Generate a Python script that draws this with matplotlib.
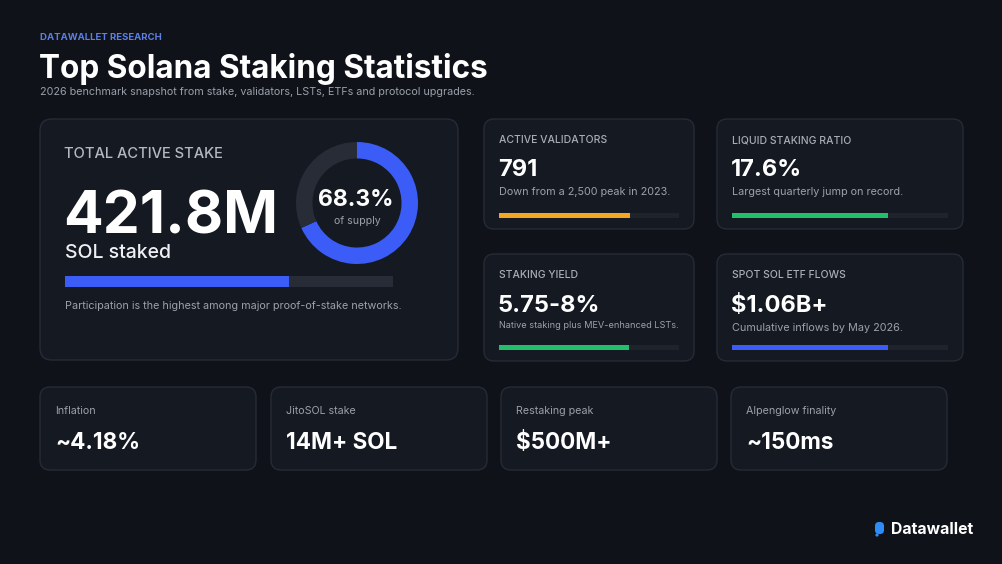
import matplotlib
matplotlib.use("Agg")
import matplotlib.pyplot as plt
from matplotlib.patches import FancyBboxPatch, Circle

plt.rcParams['font.family'] = ['Inter', 'DejaVu Sans']

# data
eyebrow = "DATAWALLET RESEARCH"
title = "Top Solana Staking Statistics"
subtitle = "2026 benchmark snapshot from stake, validators, LSTs, ETFs and protocol upgrades."

hero_label = "TOTAL ACTIVE STAKE"
hero_value = "421.8M"
hero_unit = "SOL staked"
hero_note = "Participation is the highest among major proof-of-stake networks."
supply_share = 68.3  # percent of supply staked

stat_labels = ["ACTIVE VALIDATORS", "LIQUID STAKING RATIO", "STAKING YIELD", "SPOT SOL ETF FLOWS"]
stat_values = ["791", "17.6%", "5.75-8%", "$1.06B+"]
stat_notes = ["Down from a 2,500 peak in 2023.", "Largest quarterly jump on record.",
              "Native staking plus MEV-enhanced LSTs.", "Cumulative inflows by May 2026."]
stat_fill = [0.73, 0.72, 0.72, 0.72]
stat_colors = ["#f5a524", "#22c06b", "#22c06b", "#3b5cf6"]

mini_labels = ["Inflation", "JitoSOL stake", "Restaking peak", "Alpenglow finality"]
mini_values = ["~4.18%", "14M+ SOL", "$500M+", "~150ms"]

BG = "#0f1219"
CARD = "#151922"
EDGE = "#272b35"
TRACK = "#272c37"
BLUE = "#3b5cf6"
GREY = "#9ba0a9"

fig = plt.figure(figsize=(10.02, 5.64), dpi=100, facecolor=BG)
ax = fig.add_axes([0, 0, 1, 1])
ax.set_xlim(0, 1002)
ax.set_ylim(564, 0)
ax.axis("off")
ax.set_facecolor(BG)


def card(x0, y0, x1, y1, r=10):
    ax.add_patch(FancyBboxPatch((x0, y0), x1 - x0, y1 - y0,
                                boxstyle="round,pad=0,rounding_size=%d" % r,
                                facecolor=CARD, edgecolor=EDGE, lw=1.0))


# header
ax.text(40, 40, eyebrow, color="#5b7fe6", fontsize=6.9, fontweight="bold")
ax.text(39, 78, title, color="white", fontsize=22.7, fontweight="bold")
ax.text(40, 95, subtitle, color=GREY, fontsize=7.75)

# hero card
card(40, 119, 458, 360, r=12)
ax.text(64, 158, hero_label, color="#b4b8c0", fontsize=10.6, fontweight="medium")
ax.text(63, 233, hero_value, color="white", fontsize=42.4, fontweight="bold")
ax.text(65, 258, hero_unit, color="#eef0f3", fontsize=14.0, fontweight="medium")
ax.barh([281], [328], left=65, height=11, color=TRACK)
ax.barh([281], [328 * supply_share / 100], left=65, height=11, color=BLUE)
ax.text(65, 309, hero_note, color=GREY, fontsize=7.8)

# donut
cx, cy, rad = 357, 203, 61
dax = fig.add_axes([(cx - rad) / 1002, 1 - (cy + rad) / 564, 2 * rad / 1002, 2 * rad / 564])
dax.pie([supply_share, 100 - supply_share], colors=[BLUE, TRACK], startangle=90,
        counterclock=False, radius=1, wedgeprops=dict(width=0.27, linewidth=0))
dax.set_xlim(-1, 1)
dax.set_ylim(-1, 1)
dax.set_aspect("equal")
dax.axis("off")
ax.text(356, 206, "%.1f%%" % supply_share, color="white", fontsize=16.5,
        fontweight="bold", ha="center")
ax.text(357, 224, "of supply", color=GREY, fontsize=7.6, ha="center")

# stat cards
boxes = [(484, 119, 694, 229), (717, 119, 963, 229), (484, 254, 694, 361), (717, 254, 963, 361)]
label_y = [143, 143, 278, 278]
value_y = [176, 176, 312, 312]
note_y = [195, 195, 328, 331]
note_size = [7.8, 7.8, 6.6, 7.8]
bar_y = [215.5, 215.5, 347.5, 347.5]
for i in range(4):
    x0, y0, x1, y1 = boxes[i]
    card(x0, y0, x1, y1)
    tx = x0 + 15
    ax.text(tx, label_y[i], stat_labels[i], color="#a9adb5", fontsize=7.5, fontweight="medium")
    ax.text(tx - 1, value_y[i], stat_values[i], color="white", fontsize=17.0, fontweight="bold")
    ax.text(tx, note_y[i], stat_notes[i], color=GREY, fontsize=note_size[i])
    track = x1 - 15 - tx
    ax.barh([bar_y[i]], [track], left=tx, height=5, color="#1f232c")
    ax.barh([bar_y[i]], [track * stat_fill[i]], left=tx, height=5, color=stat_colors[i])

# bottom cards
mini_x = [40, 271, 501, 731]
mini_w = 216
for i in range(4):
    x0 = mini_x[i]
    card(x0, 387, x0 + mini_w, 470)
    ax.text(x0 + 15, 414, mini_labels[i], color=GREY, fontsize=7.7)
    ax.text(x0 + 15, 449, mini_values[i], color="white", fontsize=16.2, fontweight="bold")

# logo
ax.add_patch(FancyBboxPatch((875, 522), 9, 12, boxstyle="round,pad=0,rounding_size=4",
                            facecolor="#2e8cf7", edgecolor="none"))
ax.add_patch(Circle((877, 535), 1.6, facecolor="#2e8cf7", edgecolor="none"))
ax.text(891, 534, "Datawallet", color="white", fontsize=11.4, fontweight="bold")

fig.savefig("out.png", dpi=100, facecolor=BG)
